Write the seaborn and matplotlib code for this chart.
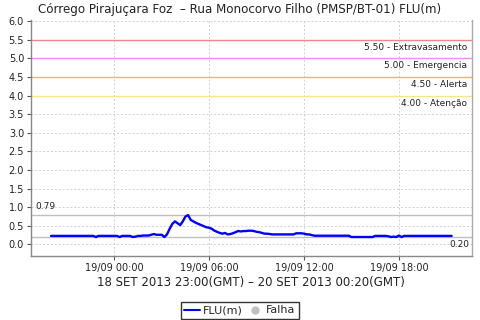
import matplotlib
matplotlib.use("Agg")
import matplotlib.pyplot as plt
import matplotlib.dates as mdates
from matplotlib.lines import Line2D
import seaborn as sns
import pandas as pd
import numpy as np

# 10-minute readings, 18/09/2013 20:00 -> 19/09/2013 21:20 (local time)
flu_values = [
    0.23, 0.23, 0.23, 0.23, 0.23, 0.23,   # 20h
    0.23, 0.23, 0.23, 0.23, 0.23, 0.23,   # 21h
    0.23, 0.23, 0.23, 0.23, 0.23, 0.20,   # 22h
    0.23, 0.23, 0.23, 0.23, 0.23, 0.23,   # 23h
    0.23, 0.23, 0.20, 0.23, 0.23, 0.23,   # 00h
    0.23, 0.20, 0.21, 0.23, 0.23, 0.24,   # 01h
    0.24, 0.24, 0.26, 0.28, 0.26, 0.26,   # 02h
    0.26, 0.20, 0.27, 0.42, 0.55, 0.62,   # 03h
    0.57, 0.52, 0.62, 0.75, 0.79, 0.66,   # 04h
    0.62, 0.58, 0.55, 0.52, 0.49, 0.46,   # 05h
    0.45, 0.42, 0.37, 0.34, 0.31, 0.29,   # 06h
    0.31, 0.27, 0.28, 0.30, 0.33, 0.36,   # 07h
    0.35, 0.36, 0.36, 0.37, 0.37, 0.36,   # 08h
    0.34, 0.33, 0.31, 0.29, 0.29, 0.28,   # 09h
    0.27, 0.27, 0.27, 0.27, 0.27, 0.27,   # 10h
    0.27, 0.27, 0.27, 0.30, 0.30, 0.30,   # 11h
    0.29, 0.27, 0.27, 0.25, 0.235, 0.235, # 12h
    0.235, 0.235, 0.235, 0.235, 0.235, 0.235,  # 13h
    0.235, 0.235, 0.235, 0.235, 0.235, 0.235,  # 14h
    0.20, 0.20, 0.20, 0.20, 0.20, 0.20,   # 15h
    0.20, 0.20, 0.20, 0.23, 0.23, 0.23,   # 16h
    0.23, 0.23, 0.22, 0.20, 0.21, 0.20,   # 17h
    0.24, 0.20, 0.23, 0.23, 0.23, 0.23,   # 18h
    0.23, 0.23, 0.23, 0.23, 0.23, 0.23,   # 19h
    0.23, 0.23, 0.23, 0.23, 0.23, 0.23,   # 20h
    0.23, 0.23, 0.23,                     # 21h
]
start_time = "2013-09-18 20:00"
times = pd.date_range(start_time, periods=len(flu_values), freq="10min")

threshold_values = [5.50, 5.00, 4.50, 4.00]
threshold_labels = ["5.50 - Extravasamento", "5.00 - Emergencia", "4.50 - Alerta", "4.00 - Atenção"]
threshold_colors = ["#ee8888", "#ff88ff", "#ffb066", "#f5e68a"]

max_value = 0.79
min_value = 0.20

title = "Córrego Pirajuçara Foz  – Rua Monocorvo Filho (PMSP/BT-01) FLU(m)"
xlabel = "18 SET 2013 23:00(GMT) – 20 SET 2013 00:20(GMT)"
yticks = [0.0, 0.5, 1.0, 1.5, 2.0, 2.5, 3.0, 3.5, 4.0, 4.5, 5.0, 5.5, 6.0]
legend_labels = ["FLU(m)", "Falha"]

df = pd.DataFrame({"time": times, "FLU(m)": flu_values})

sns.set_style("white")
plt.rcParams["font.family"] = ["DejaVu Sans"]

fig = plt.figure(figsize=(4.8, 3.2), dpi=100)
ax = fig.add_axes([0.0646, 0.2, 0.918, 0.7375])

ax.set_ylim(-0.31, 6.03)
ax.set_yticks(yticks)
ax.set_yticklabels([f"{v:.1f}" for v in yticks])

ax.grid(True, color="#d0d0d0", linestyle=(0, (2, 2)), linewidth=0.7)
ax.set_axisbelow(True)

for v, c in zip(threshold_values, threshold_colors):
    ax.axhline(v, color=c, linewidth=1.0, zorder=2)

ax.axhline(max_value, color="#c0c0c0", linewidth=1.0, zorder=2)
ax.axhline(min_value, color="#c0c0c0", linewidth=1.0, zorder=2)

sns.lineplot(data=df, x="time", y="FLU(m)", ax=ax, color="#0000ff",
             linewidth=1.7, zorder=3, legend=False)

span = times[-1] - times[0]
ax.set_xlim(times[0] - span * 0.05, times[-1] + span * 0.05)

ax.xaxis.set_major_locator(mdates.HourLocator(byhour=[0, 6, 12, 18]))
ax.xaxis.set_major_formatter(mdates.DateFormatter("%d/%m %H:%M"))

ax.tick_params(axis="both", labelsize=7, colors="#555555", length=3, width=0.8,
               direction="out", pad=2, left=True, bottom=True)
for lbl in ax.get_yticklabels() + ax.get_xticklabels():
    lbl.set_color("#222222")

for s in ["left", "bottom", "right"]:
    ax.spines[s].set_visible(True)
    ax.spines[s].set_color("#888888")
    ax.spines[s].set_linewidth(1.0)
ax.spines["right"].set_color("#aaaaaa")
ax.spines["top"].set_visible(False)

ax.set_xlabel(xlabel, fontsize=8.5, color="#222222", labelpad=2)
ax.set_ylabel("")

fig.text(0.5, 0.970, title, ha="center", va="center", fontsize=8.6, color="#222222")

trans = ax.get_yaxis_transform()
for v, lab in zip(threshold_values, threshold_labels):
    ax.text(0.99, v - 0.08, lab, transform=trans, ha="right", va="top",
            fontsize=6.5, color="#222222")

ax.text(0.01, max_value + 0.1, f"{max_value:.2f}", transform=trans, ha="left",
        va="bottom", fontsize=6.5, color="#222222")
ax.text(0.995, min_value - 0.08, f"{min_value:.2f}", transform=trans, ha="right",
        va="top", fontsize=6.5, color="#222222")

handles = [Line2D([], [], color="#0000ff", linewidth=1.5),
           Line2D([], [], color="#c0c0c0", marker="o", linestyle="None", markersize=5)]
leg = fig.legend(handles, legend_labels, loc="center", bbox_to_anchor=(0.5, 0.03),
                 ncol=2, fontsize=8, frameon=True, fancybox=False, edgecolor="black",
                 handlelength=1.4, handletextpad=0.3, columnspacing=0.4,
                 borderpad=0.3, borderaxespad=0)
leg.get_frame().set_linewidth(1.0)

fig.savefig("out.png", dpi=100)
